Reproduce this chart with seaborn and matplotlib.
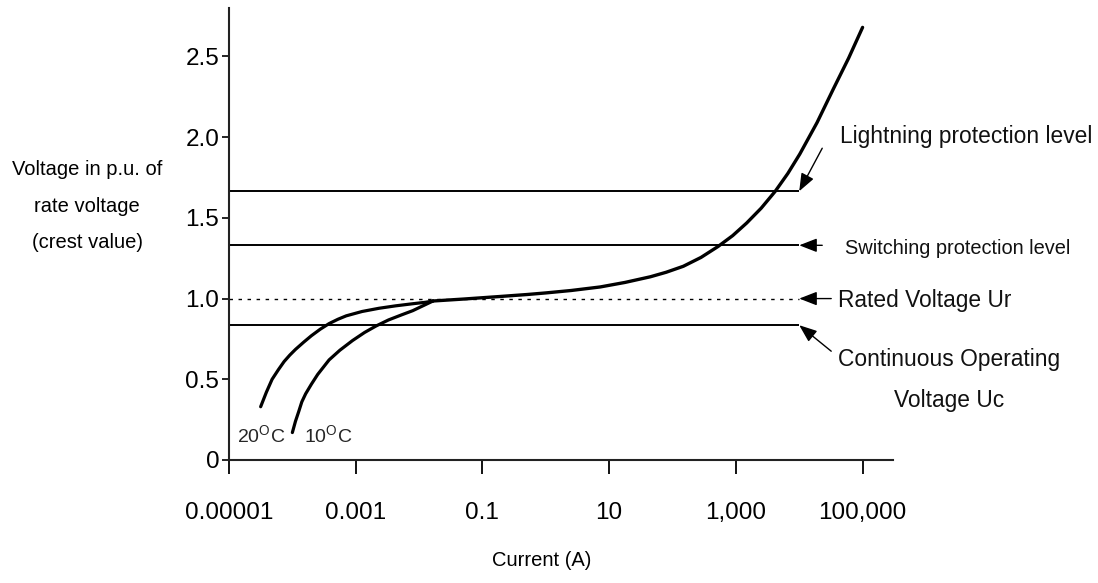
import numpy as np
import matplotlib
matplotlib.use('Agg')
import matplotlib.pyplot as plt
from matplotlib.ticker import NullLocator
import seaborn as sns

## data (current in A, voltage in p.u.)
i_20c = [3.16e-5, 3.89e-5, 4.79e-5, 6.03e-5, 7.41e-5, 9.12e-5, 1.12e-4, 1.51e-4, 2.0e-4,
         2.75e-4, 3.8e-4, 5.25e-4, 7.08e-4, 1.26e-3, 2.34e-3, 4.27e-3, 7.94e-3, 0.0126, 0.0166]
v_20c = [0.33, 0.42, 0.50, 0.56, 0.61, 0.65, 0.685, 0.73, 0.77,
         0.81, 0.845, 0.872, 0.893, 0.92, 0.94, 0.955, 0.968, 0.977, 0.985]

i_10c = [1.0e-4, 1.12e-4, 1.26e-4, 1.41e-4, 1.62e-4, 2.0e-4, 2.51e-4, 3.16e-4, 3.8e-4,
         5.62e-4, 8.91e-4, 1.38e-3, 2.09e-3, 3.31e-3, 5.37e-3, 7.94e-3, 0.0112, 0.0166]
v_10c = [0.17, 0.24, 0.30, 0.36, 0.41, 0.47, 0.53, 0.58, 0.62,
         0.68, 0.74, 0.79, 0.83, 0.868, 0.90, 0.925, 0.953, 0.985]

i_main = [0.0166, 0.0501, 0.191, 0.501, 1.0, 2.51, 7.24, 17.8, 44.7, 79.4, 148, 282,
          525, 891, 1480, 2510, 4170, 6610, 10200, 19100, 34700, 60300, 100000]
v_main = [0.985, 0.997, 1.013, 1.025, 1.035, 1.05, 1.072, 1.10, 1.135, 1.163, 1.20, 1.255,
          1.323, 1.39, 1.468, 1.56, 1.664, 1.775, 1.895, 2.09, 2.30, 2.49, 2.68]

levels = [1.665, 1.33, 1.0, 0.835]
level_names = ['Lightning protection level', 'Switching protection level',
               'Rated Voltage Ur', 'Continuous Operating\nVoltage Uc']
line_end = 1e4

x_ticks = [1e-5, 1e-3, 1e-1, 1e1, 1e3, 1e5]
x_labels = ['0.00001', '0.001', '0.1', '10', '1,000', '100,000']
y_ticks = [0, 0.5, 1.0, 1.5, 2.0, 2.5]
y_labels = ['0', '0.5', '1.0', '1.5', '2.0', '2.5']

sns.set_theme(style='ticks')
plt.rcParams['font.family'] = ['Liberation Sans', 'DejaVu Sans']

W, H = 1098, 583
fig = plt.figure(figsize=(W / 100, H / 100), dpi=100)
ax = fig.add_axes([229 / W, 123 / H, 664 / W, 452 / H])
ax.set_xscale('log')

sns.lineplot(x=i_20c, y=v_20c, ax=ax, color='black', lw=2.3, estimator=None)
sns.lineplot(x=i_10c, y=v_10c, ax=ax, color='black', lw=2.3, estimator=None)
sns.lineplot(x=i_main, y=v_main, ax=ax, color='black', lw=2.4, estimator=None)

solid = [l for l in levels if l != 1.0]
ax.hlines(solid, 1e-5, line_end, color='black', lw=1.4)
ax.hlines([1.0], 1e-5, line_end, color='black', lw=1.0, linestyles=(0, (2.5, 4)))

ax.set_xlim(1e-5, 10 ** 5.48)
ax.set_ylim(0, 2.8)
ax.set_xticks(x_ticks, x_labels)
ax.xaxis.set_minor_locator(NullLocator())
ax.set_yticks(y_ticks, y_labels)
ax.tick_params(axis='x', direction='out', length=10, width=1.3, pad=20,
               labelsize=17.5, colors='black')
ax.tick_params(axis='y', direction='out', length=5, width=1.2, pad=2,
               labelsize=17.5, colors='black')
sns.despine(ax=ax)
for s in ['left', 'bottom']:
    ax.spines[s].set_linewidth(1.5)
    ax.spines[s].set_color('#222222')

ax.set_xlabel('Current (A)', fontsize=14.5, color='black', va='center')
ax.xaxis.set_label_coords((542 - 229) / 664, (460 - 561) / 452)
ax.set_ylabel('Voltage in p.u. of\nrate voltage\n(crest value)', fontsize=14.5,
              rotation=0, ha='center', va='center', linespacing=2.15, color='black')
ax.yaxis.set_label_coords((87 - 229) / 664, (460 - 206) / 452)

## arrows from the labels to the ends of the level lines (offsets in pixels)
arrow_tails = [(23, 43), (23, 0), (32, 0), (32, -26)]
for lev, tail in zip(levels, arrow_tails):
    ax.annotate('', xy=(line_end, lev), xytext=tail, textcoords='offset pixels',
                arrowprops=dict(arrowstyle='-|>,head_length=0.9,head_width=0.35',
                                color='black', lw=1.0, shrinkA=0, shrinkB=0))

## level labels, placed in figure pixels
label_pos = [(840, 137, 'left', 16.4), (845, 248, 'left', 14.4),
             (838, 300, 'left', 16.4), (949, 380, 'center', 16.4)]
for name, (px, py, ha, fs) in zip(level_names, label_pos):
    fig.text(px / W, 1 - py / H, name, fontsize=fs, ha=ha, va='center',
             linespacing=1.95, color='#111111')

ax.text((237 - 229) / 664, (460 - 443) / 452, r'20$^\mathregular{O}$C', transform=ax.transAxes,
        fontsize=14, va='baseline', ha='left')
ax.text((304 - 229) / 664, (460 - 443) / 452, r'10$^\mathregular{O}$C', transform=ax.transAxes,
        fontsize=14, va='baseline', ha='left')

fig.savefig('out.png', dpi=100)
